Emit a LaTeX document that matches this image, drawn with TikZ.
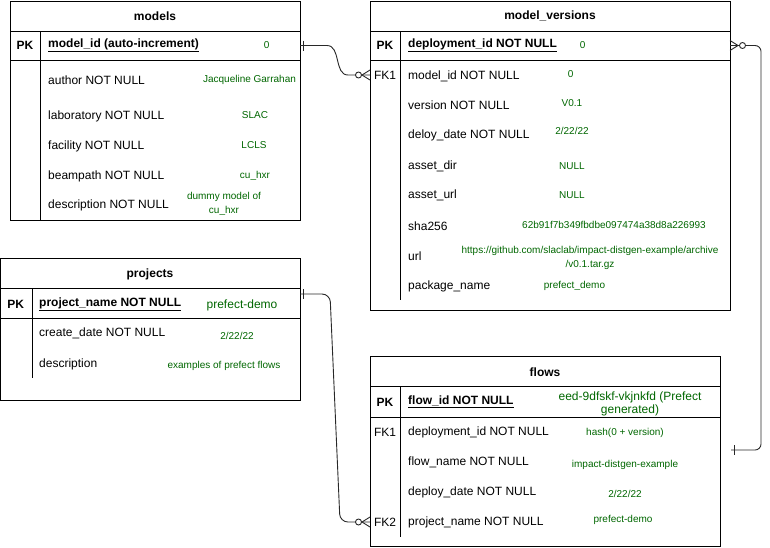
\documentclass[tikz,border=0pt]{standalone}
\usepackage{fontspec}
\setmainfont{Liberation Sans}
\usetikzlibrary{calc}
\definecolor{valgreen}{RGB}{0,102,0}
\definecolor{lnk}{RGB}{40,40,40}
\begin{document}
\begin{tikzpicture}[x=1pt,y=-1pt,
  tbl/.style={draw, line width=0.9pt, rectangle, inner sep=0pt, outer sep=0pt},
  rowbox/.style={inner sep=0pt, outer sep=0pt, minimum height=30pt},
  hdr/.style={inner sep=0pt, font=\fontsize{12}{14}\selectfont\bfseries},
  key/.style={inner sep=0pt, font=\fontsize{12}{14}\selectfont\bfseries},
  fkey/.style={inner sep=0pt, font=\fontsize{12}{14}\selectfont},
  fld/.style={anchor=west, inner sep=0pt, font=\fontsize{12}{14}\selectfont},
  pkfld/.style={anchor=west, inner sep=0pt, font=\fontsize{12}{14}\selectfont\bfseries},
  val/.style={text=valgreen, align=center, inner sep=0pt, font=\fontsize{10}{14}\selectfont},
  bigval/.style={text=valgreen, align=center, inner sep=0pt, font=\fontsize{12}{13.5}\selectfont},
  divline/.style={line width=0.9pt},
  conn/.style={draw=lnk, line width=0.9pt}
]
\useasboundingbox (0,0) rectangle (770,547);

% ---------------- models ----------------
\node[tbl, minimum width=290pt, minimum height=219pt] (models) at (155,110.5) {};
\draw[divline] (10,31) -- (300,31) (10,60) -- (300,60) (40,31) -- (40,220);
\node[hdr] (mh) at (155,16) {models};
\node[rowbox, minimum width=290pt] (mpk) at (155,45.5) {};
\node[key] (mpkl) at (25,45.5) {PK};
\node[pkfld] (mf0) at (48,45.5) {\underline{model\_id (auto-increment)}};
\node[val] (mv0) at (266.7,45) {0};
\node[fld] (mf1) at (48,80) {author NOT NULL};
\node[val] (mv1) at (249.5,80) {Jacqueline Garrahan};
\node[fld] (mf2) at (48,116) {laboratory NOT NULL};
\node[val] (mv2) at (255,115.5) {SLAC};
\node[fld] (mf3) at (48,146) {facility NOT NULL};
\node[val] (mv3) at (254,145.5) {LCLS};
\node[fld] (mf4) at (48,176) {beampath NOT NULL};
\node[val] (mv4) at (255,176) {cu\_hxr};
\node[fld] (mf5) at (48,205) {description NOT NULL};
\node[val] (mv5) at (224,204) {dummy model of\\cu\_hxr};

% ---------------- model_versions ----------------
\node[tbl, minimum width=360pt, minimum height=309pt] (mver) at (550,155.5) {};
\draw[divline] (370,31) -- (730,31) (370,60) -- (730,60) (400,31) -- (400,300);
\node[hdr] (vh) at (550,16) {model\_versions};
\node[rowbox, minimum width=360pt] (mvpk) at (550,45.5) {};
\node[rowbox, minimum width=360pt] (mvfk1) at (550,75) {};
\node[key] (vpkl) at (385,45.5) {PK};
\node[pkfld] (vf0) at (408,45.5) {\underline{deployment\_id NOT NULL}};
\node[val] (vv0) at (582.7,45) {0};
\node[fkey] (vfkl) at (385,75.5) {FK1};
\node[fld] (vf1) at (408,76) {model\_id NOT NULL};
\node[val] (vv1) at (570.7,74) {0};
\node[fld] (vf2) at (408,105.5) {version NOT NULL};
\node[val] (vv2) at (572,103) {V0.1};
\node[fld] (vf3) at (408,135.5) {deloy\_date NOT NULL};
\node[val] (vv3) at (572,131) {2/22/22};
\node[fld] (vf4) at (408,166) {asset\_dir};
\node[val] (vv4) at (572,166.5) {NULL};
\node[fld] (vf5) at (408,195.5) {asset\_url};
\node[val] (vv5) at (572,195.5) {NULL};
\node[fld] (vf6) at (408,226) {sha256};
\node[val] (vv6) at (614,225) {62b91f7b349fbdbe097474a38d8a226993};
\node[fld] (vf7) at (408,256.5) {url};
\node[val] (vv7) at (590,258) {https://github.com/slaclab/impact-distgen-example/archive\\/v0.1.tar.gz};
\node[fld] (vf8) at (408,286.5) {package\_name};
\node[val] (vv8) at (574.5,286) {prefect\_demo};

% ---------------- projects ----------------
\node[tbl, minimum width=299.5pt, minimum height=142pt] (projects) at (150.25,329) {};
\draw[divline] (0.5,288) -- (300,288) (0.5,318) -- (300,318) (32,288) -- (32,378);
\node[hdr] (ph) at (150,274) {projects};
\node[rowbox, minimum width=299.5pt] (ppk) at (150.25,303.5) {};
\node[key] (ppkl) at (15.7,304) {PK};
\node[pkfld] (pf0) at (39,304) {\underline{project\_name NOT NULL}};
\node[bigval] (pv0) at (242,305) {prefect-demo};
\node[fld] (pf1) at (39,333) {create\_date NOT NULL};
\node[val] (pv1) at (237,336) {2/22/22};
\node[fld] (pf2) at (39,364) {description};
\node[val] (pv2) at (224,366) {examples of prefect flows};

% ---------------- flows ----------------
\node[tbl, minimum width=350pt, minimum height=190pt] (flows) at (545,451) {};
\draw[divline] (370,386) -- (720,386) (370,417) -- (720,417) (400,386) -- (400,537);
\node[hdr] (fh) at (545,372) {flows};
\node[key] (fpkl) at (385,402) {PK};
\node[pkfld] (ff0) at (408,402) {\underline{flow\_id NOT NULL}};
\node[bigval] (fv0) at (630,404) {eed-9dfskf-vkjnkfd (Prefect\\generated)};
\node[fkey] (ffk1l) at (385,432) {FK1};
\node[fld] (ff1) at (408,432) {deployment\_id NOT NULL};
\node[val] (fv1) at (625,432.7) {hash(0 + version)};
\node[fld] (ff2) at (408,462) {flow\_name NOT NULL};
\node[val] (fv2) at (625,465) {impact-distgen-example};
\node[fld] (ff3) at (408,492) {deploy\_date NOT NULL};
\node[val] (fv3) at (625,494) {2/22/22};
\node[rowbox, minimum width=350pt] (ffk2) at (545,522) {};
\node[fkey] (ffk2l) at (385,522) {FK2};
\node[fld] (ff4) at (408,522) {project\_name NOT NULL};
\node[val] (fv4) at (623,520) {prefect-demo};

% ---------------- connectors ----------------
\coordinate (fk1tip) at (731,450);

% models.model_id -> model_versions.model_id
\draw[conn] (mpk.east) -- ++(27,0) .. controls +(14,0) and +(-14,0) .. ($(mvfk1.west)+(-22,0)$) -- (mvfk1.west);
\draw[conn] ($(mpk.east)+(3,-5)$) -- ($(mpk.east)+(3,5)$);
\draw[conn] ($(mvfk1.west)+(-8,0)$) -- ($(mvfk1.west)+(0,-5)$)
            ($(mvfk1.west)+(-8,0)$) -- ($(mvfk1.west)+(0,5)$);
\draw[conn, fill=white] ($(mvfk1.west)+(-11.5,0)$) circle (3pt);

% model_versions.deployment_id -> flows.deployment_id
\draw[conn, rounded corners=6pt] (mvpk.east) -| ($(fk1tip)+(30,0)$) -- (fk1tip);
\draw[conn] ($(mvpk.east)+(8,0)$) -- ($(mvpk.east)+(0,-5)$)
            ($(mvpk.east)+(8,0)$) -- ($(mvpk.east)+(0,5)$);
\draw[conn, fill=white] ($(mvpk.east)+(12.5,0)$) circle (3pt);
\draw[conn] ($(fk1tip)+(3,-5)$) -- ($(fk1tip)+(3,5)$);

% projects.project_name -> flows.project_name
\draw[conn, rounded corners=8pt] ($(ppk.east)+(0,-9.5)$) -- ++(30,0) -- ($(ffk2.west)+(-30,0)$) -- (ffk2.west);
\draw[conn] ($(ppk.east)+(3,-14.5)$) -- ($(ppk.east)+(3,-4.5)$);
\draw[conn] ($(ffk2.west)+(-8,0)$) -- ($(ffk2.west)+(0,-5)$)
            ($(ffk2.west)+(-8,0)$) -- ($(ffk2.west)+(0,5)$);
\draw[conn, fill=white] ($(ffk2.west)+(-11.5,0)$) circle (3pt);
\end{tikzpicture}
\end{document}
